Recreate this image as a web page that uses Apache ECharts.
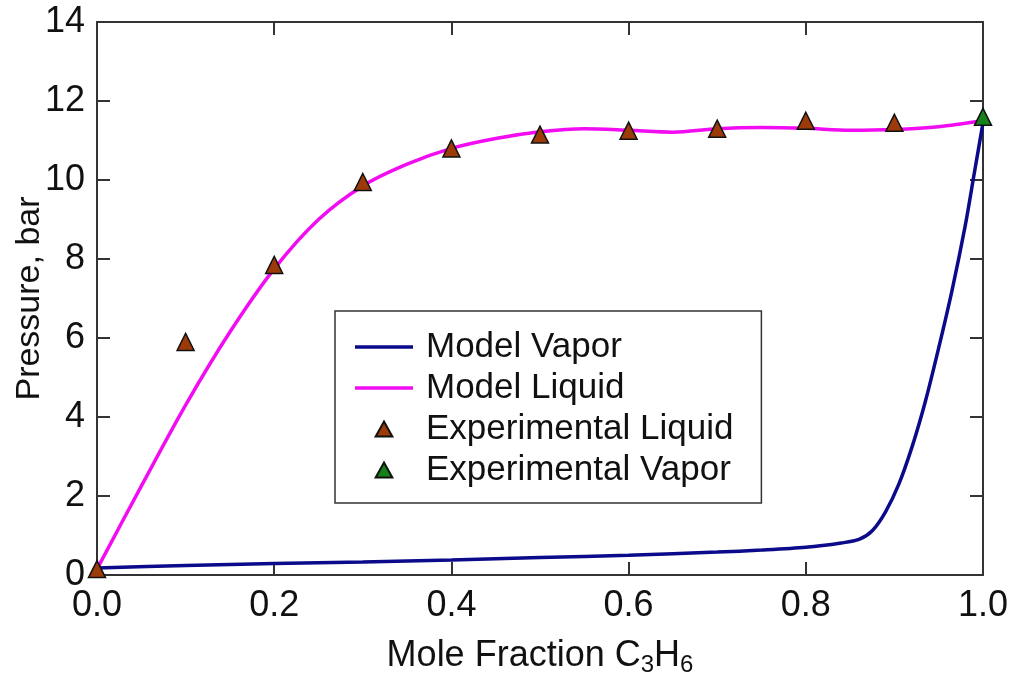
<!DOCTYPE html>
<html>
<head>
<meta charset="utf-8">
<script src="https://cdn.jsdelivr.net/npm/echarts@6/dist/echarts.min.js"></script>
<style>
  html, body { margin: 0; padding: 0; background: #fff; }
  #chart { width: 1014px; height: 681px; }
</style>
</head>
<body>
<div id="chart"></div>
<script>
// model curves
const vaporX = [0, 0.1, 0.2, 0.3, 0.4, 0.5, 0.6, 0.7, 0.75, 0.8, 0.84, 0.86, 0.875, 0.89, 0.905, 0.92, 0.935, 0.95, 0.965, 0.98, 0.99, 1.0]
const vaporY = [0.18, 0.24, 0.29, 0.33, 0.38, 0.44, 0.5, 0.58, 0.63, 0.7, 0.81, 0.9, 1.12, 1.6, 2.3, 3.25, 4.4, 5.75, 7.2, 8.85, 10.15, 11.45]

const liquidX = [0, 0.05, 0.1, 0.15, 0.2, 0.25, 0.3, 0.35, 0.4, 0.45, 0.5, 0.55, 0.6, 0.65, 0.7, 0.75, 0.8, 0.85, 0.9, 0.95, 1.0]
const liquidY = [0.15, 2.25, 4.3, 6.15, 7.75, 9.0, 9.85, 10.4, 10.8, 11.05, 11.22, 11.3, 11.26, 11.21, 11.3, 11.33, 11.31, 11.26, 11.28, 11.35, 11.5]

// experimental points
const expLiqX = [0, 0.1, 0.2, 0.3, 0.4, 0.5, 0.6, 0.7, 0.8, 0.9]
const expLiqY = [0.15, 5.9, 7.85, 9.95, 10.8, 11.15, 11.25, 11.3, 11.5, 11.45]
const expVapX = [1.0]
const expVapY = [11.6]

const xTicks = [0, 0.2, 0.4, 0.6, 0.8, 1.0]
const yTicks = [0, 2, 4, 6, 8, 10, 12, 14]

const pairs = (xs, ys) => xs.map((x, i) => [x, ys[i]])

const FONT = 'Liberation Sans, Arial, Helvetica, sans-serif'
const AXIS = '#333'
const LINE_ICON = 'path://M0,0 H58 V3.5 H0 Z'
const TRI_ICON = 'path://M5,0 L10,9 L0,9 Z'

const chart = echarts.init(document.getElementById('chart'), null, {renderer: 'canvas'})

const frameAxis = {
    axisLine: {show: true, onZero: false, lineStyle: {color: AXIS, width: 2}},
    axisTick: {show: true, inside: true, length: 13, lineStyle: {color: AXIS, width: 2}},
    axisLabel: {show: false},
    splitLine: {show: false}
}

const option = {
    animation: false,
    backgroundColor: '#fff',
    textStyle: {fontFamily: FONT},
    grid: {left: 97, right: 31, top: 22, bottom: 106, outerBoundsMode: 'none'},
    legend: {
        orient: 'vertical',
        left: 335,
        top: 311,
        padding: [18, 28, 15, 20],
        itemGap: 5,
        itemWidth: 58,
        itemHeight: 15,
        symbolKeepAspect: true,
        borderColor: AXIS,
        borderWidth: 1.5,
        textStyle: {fontFamily: FONT, fontSize: 35, color: '#111', lineHeight: 36, padding: [0, 0, 0, 8]},
        data: [
            {name: 'Model Vapor', icon: LINE_ICON},
            {name: 'Model Liquid', icon: LINE_ICON},
            {name: 'Experimental Liquid', icon: TRI_ICON},
            {name: 'Experimental Vapor', icon: TRI_ICON}
        ]
    },
    xAxis: [
        {
            type: 'value',
            min: xTicks[0],
            max: xTicks[xTicks.length - 1],
            interval: 0.2,
            name: 'Mole Fraction C{sub|3}H{sub|6}',
            nameLocation: 'middle',
            nameGap: 60,
            nameTextStyle: {
                fontFamily: FONT, fontSize: 36, color: '#111',
                rich: {
                    sub: {fontFamily: FONT, fontSize: 24, color: '#111', padding: [18, 0, 0, 0]}
                }
            },
            axisLine: {show: true, onZero: false, lineStyle: {color: AXIS, width: 2}},
            axisTick: {show: true, inside: true, length: 13, lineStyle: {color: AXIS, width: 2}},
            axisLabel: {fontFamily: FONT, fontSize: 36, color: '#111', margin: 13, formatter: v => v.toFixed(1)},
            splitLine: {show: false}
        },
        Object.assign({type: 'value', position: 'top', min: 0, max: 1, interval: 0.2}, frameAxis)
    ],
    yAxis: [
        {
            type: 'value',
            min: yTicks[0],
            max: yTicks[yTicks.length - 1],
            interval: 2,
            name: 'Pressure, bar',
            nameLocation: 'middle',
            nameGap: 50,
            nameMoveOverlap: false,
            nameTextStyle: {fontFamily: FONT, fontSize: 34, color: '#111'},
            axisLine: {show: true, onZero: false, lineStyle: {color: AXIS, width: 2}},
            axisTick: {show: true, inside: true, length: 13, lineStyle: {color: AXIS, width: 2}},
            axisLabel: {fontFamily: FONT, fontSize: 36, color: '#111', margin: 12},
            splitLine: {show: false}
        },
        Object.assign({type: 'value', position: 'right', min: 0, max: 14, interval: 2}, frameAxis)
    ],
    series: [
        {
            name: 'Model Vapor',
            type: 'line',
            symbol: 'none',
            smooth: 0.3,
            color: '#0a0a8a',
            lineStyle: {color: '#0a0a8a', width: 3.5},
            data: pairs(vaporX, vaporY),
            z: 2
        },
        {
            name: 'Model Liquid',
            type: 'line',
            symbol: 'none',
            smooth: 0.3,
            color: '#f20cf2',
            lineStyle: {color: '#f20cf2', width: 3.5},
            data: pairs(liquidX, liquidY),
            z: 3
        },
        {
            name: 'Experimental Liquid',
            type: 'scatter',
            symbol: 'triangle',
            symbolSize: 17,
            color: '#9c3a0a',
            itemStyle: {color: '#9c3a0a', borderColor: '#111', borderWidth: 1.5, opacity: 1},
            data: pairs(expLiqX, expLiqY),
            z: 4
        },
        {
            name: 'Experimental Vapor',
            type: 'scatter',
            symbol: 'triangle',
            symbolSize: 17,
            color: '#16801a',
            itemStyle: {color: '#16801a', borderColor: '#111', borderWidth: 1.5, opacity: 1},
            data: pairs(expVapX, expVapY),
            z: 5
        }
    ]
}

chart.setOption(option)
</script>
</body>
</html>
